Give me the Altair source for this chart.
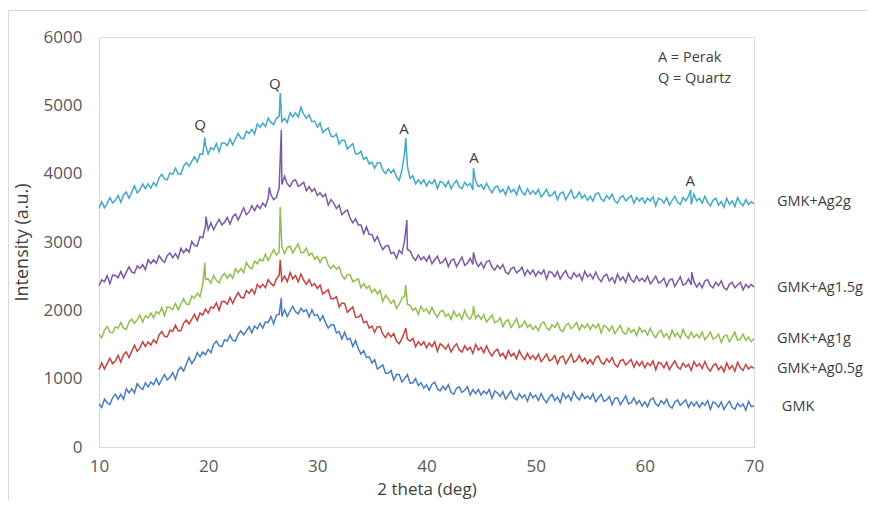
import altair as alt
import pandas as pd

# sampling positions (2 theta, deg) every 0.25 deg from 10 to 70
two_theta = [10 + 0.25 * i for i in range(241)]

series_names = ["GMK", "GMK+Ag0.5g", "GMK+Ag1g", "GMK+Ag1.5g", "GMK+Ag2g"]
series_colors = ["#4A7EBF", "#C8423F", "#93BE4E", "#7B5AA6", "#40AAC8"]

# each row = 5 degrees (20 samples)
gmk = [
    630, 580, 700, 650, 620, 720, 770, 700, 770, 700, 850, 790, 850, 790, 930, 870, 840, 940, 880, 950,
    910, 1000, 910, 990, 1060, 980, 1020, 1090, 990, 1120, 1170, 1110, 1210, 1310, 1220, 1280, 1380, 1320, 1390, 1350,
    1430, 1380, 1500, 1550, 1480, 1470, 1570, 1550, 1640, 1560, 1550, 1650, 1700, 1640, 1700, 1760, 1670, 1770, 1730, 1810,
    1740, 1830, 1820, 1910, 1800, 1930, 1940, 1910, 2010, 1910, 1990, 2060, 1980, 1950, 2030, 1980, 2010, 1900, 2010, 1920,
    1940, 1850, 1920, 1820, 1740, 1790, 1790, 1670, 1690, 1580, 1680, 1570, 1590, 1470, 1560, 1440, 1360, 1410, 1310, 1320,
    1230, 1280, 1140, 1170, 1200, 1080, 1080, 1120, 980, 1060, 1060, 950, 1000, 1060, 930, 940, 1000, 900, 940, 860,
    910, 830, 920, 950, 850, 820, 890, 840, 910, 800, 770, 860, 880, 800, 830, 880, 760, 840, 780, 840,
    760, 820, 780, 840, 710, 820, 790, 740, 810, 700, 760, 820, 720, 690, 780, 720, 760, 670, 790, 720,
    760, 680, 780, 700, 650, 730, 770, 680, 730, 650, 790, 710, 760, 680, 810, 730, 690, 780, 710, 750,
    700, 780, 660, 720, 770, 670, 690, 740, 620, 710, 720, 620, 680, 750, 630, 650, 720, 630, 680, 600,
    660, 590, 690, 720, 630, 600, 680, 630, 700, 600, 570, 660, 690, 610, 650, 690, 580, 660, 600, 660,
    580, 650, 610, 680, 550, 660, 640, 580, 660, 550, 620, 670, 580, 550, 640, 590, 630, 540, 670, 590,
    600,
]
ag05 = [
    1130, 1230, 1140, 1220, 1300, 1220, 1260, 1340, 1240, 1350, 1390, 1310, 1400, 1490, 1400, 1450, 1540, 1470, 1540, 1490,
    1570, 1520, 1640, 1690, 1620, 1610, 1710, 1690, 1780, 1700, 1700, 1810, 1860, 1800, 1870, 1940, 1850, 1960, 1930, 2020,
    1960, 2050, 2030, 2110, 2000, 2130, 2130, 2090, 2190, 2100, 2190, 2260, 2190, 2180, 2290, 2250, 2310, 2240, 2380, 2330,
    2380, 2330, 2450, 2390, 2360, 2460, 2510, 2430, 2500, 2420, 2550, 2460, 2510, 2420, 2530, 2440, 2380, 2450, 2360, 2390,
    2320, 2370, 2240, 2270, 2300, 2170, 2170, 2200, 2050, 2110, 2100, 1970, 2010, 2050, 1900, 1900, 1940, 1820, 1840, 1740,
    1770, 1680, 1760, 1760, 1650, 1600, 1670, 1610, 1660, 1550, 1510, 1590, 1690, 1580, 1550, 1590, 1470, 1540, 1490, 1540,
    1450, 1520, 1470, 1540, 1400, 1510, 1480, 1430, 1500, 1390, 1460, 1510, 1420, 1390, 1480, 1420, 1460, 1370, 1500, 1420,
    1460, 1380, 1480, 1390, 1330, 1400, 1430, 1330, 1370, 1290, 1410, 1330, 1370, 1290, 1410, 1330, 1280, 1370, 1290, 1340,
    1280, 1360, 1250, 1300, 1360, 1260, 1280, 1340, 1220, 1310, 1330, 1220, 1290, 1360, 1240, 1270, 1340, 1250, 1300, 1220,
    1280, 1210, 1310, 1330, 1240, 1210, 1290, 1240, 1310, 1210, 1170, 1260, 1280, 1200, 1240, 1280, 1170, 1250, 1190, 1250,
    1160, 1230, 1190, 1260, 1130, 1240, 1220, 1160, 1240, 1130, 1200, 1260, 1170, 1140, 1230, 1170, 1210, 1120, 1250, 1180,
    1220, 1150, 1250, 1160, 1110, 1190, 1220, 1130, 1180, 1100, 1230, 1140, 1190, 1110, 1240, 1160, 1120, 1210, 1140, 1180,
    1150,
]
ag1 = [
    1650, 1600, 1710, 1760, 1680, 1670, 1760, 1740, 1820, 1740, 1720, 1830, 1870, 1810, 1860, 1930, 1830, 1920, 1890, 1960,
    1890, 1980, 1950, 2040, 1920, 2050, 2040, 2010, 2100, 2010, 2090, 2170, 2090, 2090, 2210, 2180, 2250, 2200, 2370, 2450,
    2460, 2400, 2510, 2440, 2400, 2500, 2540, 2470, 2530, 2470, 2610, 2550, 2610, 2550, 2700, 2630, 2610, 2720, 2680, 2750,
    2720, 2820, 2730, 2810, 2890, 2810, 2850, 2930, 2830, 2920, 2940, 2840, 2910, 2970, 2840, 2850, 2910, 2800, 2840, 2750,
    2790, 2700, 2770, 2780, 2660, 2610, 2660, 2600, 2640, 2510, 2460, 2520, 2520, 2420, 2440, 2460, 2330, 2390, 2320, 2360,
    2260, 2310, 2240, 2290, 2130, 2220, 2170, 2100, 2150, 2030, 2090, 2180, 2210, 2090, 2070, 2000, 2030, 1940, 2060, 1990,
    2020, 1950, 2040, 1960, 1900, 1980, 2000, 1910, 1950, 1870, 1990, 1910, 1950, 1870, 2000, 1910, 1870, 1960, 1880, 1930,
    1870, 1940, 1830, 1880, 1930, 1820, 1840, 1890, 1760, 1840, 1860, 1750, 1810, 1880, 1750, 1780, 1840, 1750, 1790, 1720,
    1770, 1700, 1800, 1830, 1740, 1710, 1790, 1750, 1820, 1720, 1690, 1780, 1810, 1730, 1770, 1820, 1710, 1790, 1740, 1800,
    1720, 1790, 1740, 1800, 1670, 1780, 1750, 1700, 1770, 1660, 1720, 1780, 1680, 1650, 1740, 1680, 1720, 1630, 1750, 1680,
    1710, 1640, 1740, 1650, 1600, 1680, 1710, 1610, 1660, 1580, 1710, 1620, 1670, 1590, 1720, 1630, 1590, 1680, 1600, 1650,
    1600, 1680, 1570, 1620, 1680, 1580, 1600, 1650, 1530, 1620, 1640, 1540, 1610, 1680, 1560, 1580, 1650, 1560, 1610, 1540,
    1590,
]
ag15 = [
    2360, 2445, 2420, 2505, 2390, 2515, 2510, 2475, 2570, 2475, 2560, 2635, 2560, 2545, 2650, 2615, 2670, 2595, 2740, 2685,
    2740, 2690, 2800, 2740, 2700, 2800, 2840, 2770, 2830, 2760, 2910, 2840, 2900, 2850, 3010, 2950, 2940, 3080, 3060, 3230,
    3180, 3280, 3180, 3260, 3330, 3250, 3290, 3360, 3260, 3370, 3410, 3320, 3410, 3500, 3400, 3440, 3530, 3460, 3540, 3490,
    3570, 3520, 3640, 3690, 3620, 3650, 3790, 3840, 3960, 3850, 3810, 3890, 3910, 3815, 3840, 3875, 3750, 3810, 3740, 3780,
    3680, 3720, 3660, 3700, 3540, 3620, 3570, 3490, 3540, 3400, 3440, 3470, 3350, 3280, 3340, 3250, 3250, 3120, 3220, 3110,
    3110, 3010, 3080, 2970, 2890, 2940, 2950, 2830, 2850, 2760, 2880, 2830, 3030, 2890, 2870, 2780, 2730, 2810, 2740, 2780,
    2720, 2800, 2680, 2740, 2790, 2690, 2710, 2760, 2640, 2730, 2750, 2640, 2710, 2780, 2660, 2690, 2760, 2670, 2720, 2640,
    2700, 2620, 2710, 2730, 2630, 2590, 2660, 2610, 2670, 2560, 2530, 2610, 2630, 2550, 2580, 2630, 2510, 2590, 2530, 2590,
    2500, 2570, 2530, 2590, 2460, 2570, 2550, 2490, 2570, 2460, 2530, 2580, 2490, 2460, 2550, 2490, 2530, 2440, 2570, 2490,
    2530, 2460, 2560, 2470, 2420, 2500, 2530, 2430, 2480, 2400, 2530, 2440, 2490, 2410, 2540, 2450, 2410, 2500, 2430, 2470,
    2420, 2500, 2390, 2440, 2500, 2400, 2420, 2470, 2350, 2440, 2460, 2350, 2420, 2490, 2370, 2390, 2460, 2370, 2420, 2340,
    2400, 2330, 2430, 2450, 2360, 2330, 2410, 2360, 2430, 2330, 2300, 2380, 2410, 2330, 2370, 2410, 2300, 2380, 2330, 2380,
    2340,
]
ag2 = [
    3490, 3590, 3500, 3570, 3650, 3570, 3610, 3680, 3580, 3690, 3730, 3640, 3730, 3820, 3720, 3760, 3850, 3780, 3850, 3790,
    3870, 3820, 3940, 3990, 3920, 3910, 4010, 3990, 4080, 4000, 3990, 4110, 4160, 4110, 4180, 4250, 4170, 4290, 4280, 4420,
    4290, 4380, 4350, 4440, 4320, 4450, 4450, 4410, 4510, 4420, 4510, 4590, 4520, 4510, 4620, 4590, 4650, 4580, 4730, 4680,
    4740, 4690, 4810, 4750, 4720, 4810, 4840, 4760, 4810, 4750, 4890, 4830, 4890, 4830, 4970, 4870, 4810, 4860, 4760, 4770,
    4680, 4740, 4600, 4640, 4670, 4550, 4540, 4580, 4430, 4490, 4490, 4360, 4400, 4440, 4290, 4290, 4330, 4210, 4240, 4140,
    4170, 4080, 4160, 4160, 4050, 4000, 4070, 4010, 4060, 3950, 3900, 4050, 4310, 4110, 3930, 3970, 3850, 3910, 3850, 3910,
    3820, 3890, 3850, 3910, 3780, 3890, 3870, 3810, 3890, 3780, 3850, 3900, 3810, 3780, 3870, 3820, 3860, 3760, 3890, 3810,
    3840, 3770, 3860, 3780, 3720, 3800, 3820, 3730, 3770, 3690, 3810, 3730, 3770, 3690, 3820, 3730, 3690, 3780, 3700, 3750,
    3700, 3770, 3660, 3710, 3770, 3670, 3690, 3740, 3620, 3710, 3730, 3620, 3690, 3760, 3640, 3660, 3730, 3640, 3690, 3610,
    3670, 3600, 3700, 3720, 3630, 3600, 3680, 3630, 3700, 3600, 3570, 3650, 3680, 3600, 3640, 3680, 3570, 3650, 3600, 3650,
    3570, 3640, 3600, 3660, 3530, 3640, 3620, 3570, 3650, 3540, 3610, 3670, 3580, 3550, 3650, 3600, 3670, 3550, 3700, 3600,
    3640, 3570, 3670, 3580, 3530, 3610, 3640, 3540, 3590, 3510, 3640, 3550, 3600, 3520, 3650, 3570, 3530, 3620, 3550, 3590,
    3560,
]

# sharp diffraction peaks (2 theta, intensity)
gmk_peaks_x = [26.7]
gmk_peaks_y = [2180]
ag05_peaks_x = [26.6, 38.1]
ag05_peaks_y = [2740, 1740]
ag1_peaks_x = [19.7, 26.6, 38.1, 44.3]
ag1_peaks_y = [2700, 3510, 2370, 2060]
ag15_peaks_x = [19.8, 25.6, 26.7, 38.2, 44.3, 64.3]
ag15_peaks_y = [3370, 3800, 4640, 3320, 2850, 2560]
ag2_peaks_x = [19.7, 26.6, 38.1, 44.3, 64.2]
ag2_peaks_y = [4530, 5180, 4520, 4080, 3760]

# peak labels
peak_label_text = ["Q", "Q", "A", "A", "A"]
peak_label_x = [19.25, 26.1, 37.95, 44.35, 64.15]
peak_label_y = [4712, 5312, 4654, 4229, 3893]

# series labels at right
series_label_text = ["GMK+Ag2g", "GMK+Ag1.5g", "GMK+Ag1g", "GMK+Ag0.5g", "GMK"]
series_label_x = [72.1, 72.1, 72.1, 72.1, 72.55]
series_label_y = [3592, 2327, 1580, 1141, 585]

key_text = ["A = Perak", "Q = Quartz"]
key_x = [61.2, 61.2]
key_y = [5693, 5385]

rows = []
all_values = [gmk, ag05, ag1, ag15, ag2]
all_px = [gmk_peaks_x, ag05_peaks_x, ag1_peaks_x, ag15_peaks_x, ag2_peaks_x]
all_py = [gmk_peaks_y, ag05_peaks_y, ag1_peaks_y, ag15_peaks_y, ag2_peaks_y]
for name, vals, px, py in zip(series_names, all_values, all_px, all_py):
    assert len(vals) == len(two_theta), (name, len(vals))
    pts = list(zip(two_theta, vals)) + list(zip(px, py))
    pts.sort(key=lambda p: p[0])
    for xv, yv in pts:
        rows.append({"x": xv, "y": yv, "series": name})
df = pd.DataFrame(rows)

font = "Open Sans"
xscale = alt.Scale(domain=[10, 70], nice=False, zero=False)
yscale = alt.Scale(domain=[0, 6000], nice=False)

lines = alt.Chart(df).mark_line(strokeWidth=1.5).encode(
    x=alt.X("x:Q", scale=xscale, title="2 theta (deg)",
            axis=alt.Axis(values=[10, 20, 30, 40, 50, 60, 70], grid=False, ticks=False,
                          labelFlush=False, format="d",
                          domainColor="#d9d9d9", labelFontSize=17, labelColor="#595959",
                          labelFont=font, labelPadding=11, titleFont=font, titleFontSize=17,
                          titleFontWeight="normal", titleColor="#404040",
                          titleBaseline="middle", titleX=327.5, titleY=42)),
    y=alt.Y("y:Q", scale=yscale, title="Intensity (a.u.)",
            axis=alt.Axis(values=[0, 1000, 2000, 3000, 4000, 5000, 6000], grid=False,
                          ticks=False, format="d", labelFlush=False,
                          domainColor="#d9d9d9", labelFontSize=17,
                          labelColor="#595959", labelFont=font, labelPadding=17,
                          titleFont=font, titleFontSize=18, titleFontWeight="normal",
                          titleColor="#404040", titleBaseline="middle",
                          titleX=-77, titleY=205)),
    color=alt.Color("series:N", scale=alt.Scale(domain=series_names, range=series_colors),
                    legend=None),
    detail="series:N",
)

peak_df = pd.DataFrame({"t": peak_label_text, "x": peak_label_x, "y": peak_label_y})
peaks = alt.Chart(peak_df).mark_text(font=font, fontSize=15, color="#404040",
                                     baseline="middle", align="center").encode(
    x=alt.X("x:Q", scale=xscale), y=alt.Y("y:Q", scale=yscale), text="t:N")

lab_df = pd.DataFrame({"t": series_label_text, "x": series_label_x, "y": series_label_y})
labels = alt.Chart(lab_df).mark_text(font=font, fontSize=14.5, color="#404040",
                                     baseline="middle", align="left").encode(
    x=alt.X("x:Q", scale=xscale), y=alt.Y("y:Q", scale=yscale), text="t:N")

key_df = pd.DataFrame({"t": key_text, "x": key_x, "y": key_y})
key = alt.Chart(key_df).mark_text(font=font, fontSize=14.5, color="#404040",
                                  baseline="middle", align="left").encode(
    x=alt.X("x:Q", scale=xscale), y=alt.Y("y:Q", scale=yscale), text="t:N")

one = pd.DataFrame({"a": [0]})
frame_top = alt.Chart(one).mark_rule(color="#d9d9d9", strokeWidth=1).encode(
    x=alt.value(-90.5), x2=alt.value(1000), y=alt.value(-26.5))
frame_left = alt.Chart(one).mark_rule(color="#d9d9d9", strokeWidth=1).encode(
    x=alt.value(-90.5), y=alt.value(-26.5), y2=alt.value(700))

chart = alt.layer(frame_top, frame_left, lines, peaks, labels, key).properties(
    width=655, height=410,
    padding={"left": 91, "top": 29, "right": 113, "bottom": 53},
    autosize="none",
).configure_view(stroke=None).configure(background="white")

chart.save("out.html", embed_options={"renderer": "svg", "actions": False})
